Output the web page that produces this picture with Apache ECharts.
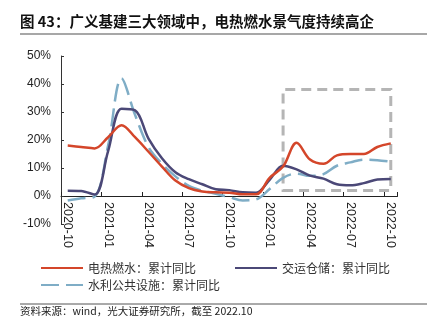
<!DOCTYPE html>
<html>
<head>
<meta charset="utf-8">
<script src="https://cdn.jsdelivr.net/npm/echarts@6/dist/echarts.min.js"></script>
<style>
html,body{margin:0;padding:0;background:#fff;}
#chart{width:436px;height:333px;}
</style>
</head>
<body>
<div id="chart"></div>
<script>
var categories = ['2020-10','2020-11','2020-12','2021-01','2021-02','2021-03','2021-04','2021-05','2021-06','2021-07','2021-08','2021-09','2021-10','2021-11','2021-12','2022-01','2022-02','2022-03','2022-04','2022-05','2022-06','2022-07','2022-08','2022-09','2022-10'];
var dianre = [18.0,17.5,17.0,21.0,25.3,21.0,15.8,10.5,5.5,2.8,1.6,1.3,1.2,0.6,0.6,6.5,10.5,19.0,13.0,11.5,14.5,15.0,15.0,17.5,18.8];
var jiaoyun = [1.9,1.8,0.5,16.0,31.2,30.6,20.5,13.5,8.5,6.0,4.2,2.4,2.1,1.3,1.2,5.8,10.8,9.5,7.3,6.2,4.2,3.8,4.6,5.9,6.1];
var shuili = [-1.6,-0.8,-0.2,18.0,42.0,29.0,17.5,11.5,7.0,3.6,1.9,0.8,-0.4,-1.6,-1.2,2.5,6.5,8.0,7.2,7.8,10.8,12.0,13.0,12.8,12.3];
var yTicks = {min:-10, max:50, interval:10};
var seriesNames = ['电热燃水：累计同比','交运仓储：累计同比','水利公共设施：累计同比'];
var boxRange = {x0:'2022-02', x1:'2022-10', y0:2, y1:38};

var latin = '"Liberation Sans", "Noto Sans CJK SC", sans-serif';
var cjk = '"Noto Sans CJK SC", sans-serif';
var legendCommon = {itemWidth:42, itemHeight:14, padding:0,
  itemStyle:{opacity:0, color:'rgba(0,0,0,0)', borderWidth:0},
  textStyle:{fontSize:12, color:'#333', fontFamily:cjk}};
var chart = echarts.init(document.getElementById('chart'));
chart.setOption({
  animation:false,
  title:[
    {text:'图 43：广义基建三大领域中，电热燃水景气度持续高企', left:20, top:14, padding:0,
     textStyle:{fontSize:14.5, fontWeight:'bold', color:'#111', fontFamily:cjk}},
    {text:'资料来源：wind，光大证券研究所，截至 2022.10', left:20, top:306, padding:0,
     textStyle:{fontSize:10.5, fontWeight:'normal', color:'#222', fontFamily:cjk}}
  ],
  graphic:[
    {type:'line', shape:{x1:20,y1:34,x2:427,y2:34}, style:{stroke:'#8a8a8a', lineWidth:1.5}},
    {type:'line', shape:{x1:20,y1:304,x2:427,y2:304}, style:{stroke:'#555', lineWidth:1}}
  ],
  legend:[
    Object.assign({data:[seriesNames[0], seriesNames[1]], left:40, top:262, itemGap:38}, legendCommon),
    Object.assign({data:[seriesNames[2]], left:40, top:279}, legendCommon)
  ],
  grid:{left:61, right:38.5, top:56, bottom:109, containLabel:false},
  xAxis:{
    type:'category', data:categories, boundaryGap:true, position:'bottom', offset:-28,
    axisLine:{onZero:false, lineStyle:{color:'#222', width:1}},
    axisTick:{show:true, inside:true, length:4, interval:2, lineStyle:{color:'#222'}},
    axisLabel:{interval:2, rotate:-90, margin:6, fontSize:12.5, color:'#222', fontFamily:latin},
    splitLine:{show:false}
  },
  yAxis:{
    type:'value', min:yTicks.min, max:yTicks.max, interval:yTicks.interval,
    axisLine:{show:true, lineStyle:{color:'#333', width:1}},
    axisTick:{show:true, inside:true, length:3, lineStyle:{color:'#333'}},
    axisLabel:{formatter:'{value}%', margin:10, fontSize:12, color:'#222', fontFamily:latin},
    splitLine:{show:false}
  },
  series:[
    {name:seriesNames[0], type:'line', data:dianre, smooth:0.35, symbol:'none',
     lineStyle:{color:'#d4462a', width:2.5}, itemStyle:{color:'#d4462a'}, z:3},
    {name:seriesNames[1], type:'line', data:jiaoyun, smooth:0.35, symbol:'none',
     lineStyle:{color:'#4b4877', width:2.5}, itemStyle:{color:'#4b4877'}, z:2},
    {name:seriesNames[2], type:'line', data:shuili, smooth:0.35, symbol:'none',
     lineStyle:{color:'#7fadc6', width:2.5, type:[18,7]}, itemStyle:{color:'#7fadc6'}, z:1,
     markArea:{silent:true, label:{show:false},
       itemStyle:{color:'rgba(0,0,0,0)', borderColor:'#b5b5b5', borderWidth:3, borderType:[10,6]},
       data:[[{xAxis:boxRange.x0, yAxis:boxRange.y0},{xAxis:boxRange.x1, yAxis:boxRange.y1}]]}}
  ]
});
</script>
</body>
</html>
